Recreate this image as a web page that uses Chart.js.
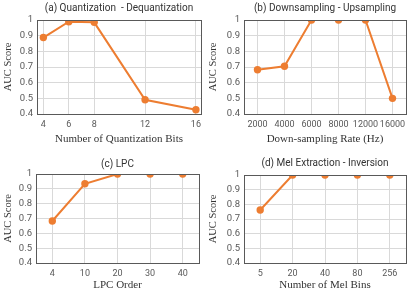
<!DOCTYPE html>
<html>
<head>
<meta charset="utf-8">
<script src="https://cdn.jsdelivr.net/npm/chart.js@4/dist/chart.umd.min.js"></script>
<style>
  body { margin: 0; background: #fff; }
  .panel { position: absolute; }
</style>
</head>
<body>
<div class="panel" style="left:0;top:0;width:208px;height:146px"><canvas id="ca"></canvas></div>
<div class="panel" style="left:205px;top:0;width:210px;height:146px"><canvas id="cb"></canvas></div>
<div class="panel" style="left:0;top:146px;width:208px;height:146px"><canvas id="cc"></canvas></div>
<div class="panel" style="left:205px;top:146px;width:210px;height:146px"><canvas id="cd"></canvas></div>
<script>
// données
const bitsQuant = [4, 6, 8, 12, 16];
const aucQuant = [0.888, 0.989, 0.985, 0.491, 0.427];

const tauxEchant = ['2000', '4000', '6000', '8000', '12000', '16000'];
const aucEchant = [0.682, 0.705, 1, 1, 1, 0.5];

const ordreLPC = ['4', '10', '20', '30', '40'];
const aucLPC = [0.683, 0.934, 1, 1, 1];

const binsMel = ['5', '20', '40', '80', '256'];
const aucMel = [0.761, 1, 1, 1, 1];

const yTicks = [0.4, 0.5, 0.6, 0.7, 0.8, 0.9, 1];

const ORANGE = '#ED7D31';
const sansFont = 'Roboto, "Open Sans", sans-serif';
const serifFont = '"Liberation Serif", "DejaVu Serif", serif';

// cadre gris autour de la zone de tracé
const cadre = {
    id: 'cadre',
    afterDraw(chart) {
        const { ctx, chartArea: a } = chart;
        ctx.save();
        ctx.strokeStyle = '#595959';
        ctx.lineWidth = 1;
        ctx.strokeRect(Math.round(a.left) + 0.5, Math.round(a.top) + 0.5,
            Math.round(a.right - a.left), Math.round(a.bottom - a.top));
        ctx.restore();
    }
};

function crearPanel(id, opts) {
    const ctx = document.getElementById(id).getContext('2d');
    const xScale = opts.lineal ? {
        type: 'linear',
        min: opts.min,
        max: opts.max,
        afterBuildTicks: s => { s.ticks = opts.labels.map(v => ({ value: v })); }
    } : {
        type: 'category',
        offset: true
    };
    Object.assign(xScale, {
        grid: { color: '#D9D9D9', offset: false, drawTicks: false },
        border: { display: false },
        ticks: { color: '#595959', font: { family: sansFont, size: 9 }, padding: 5, maxRotation: 0, autoSkip: false },
        title: { display: true, text: opts.xTitle, color: '#333', font: { family: serifFont, size: 11 }, padding: { top: 1, bottom: 0 } },
        afterFit: s => { s.height = opts.xH; }
    });

    new Chart(ctx, {
        type: 'line',
        data: {
            labels: opts.lineal ? undefined : opts.labels,
            datasets: [{
                data: opts.lineal ? opts.labels.map((x, i) => ({ x: x, y: opts.data[i] })) : opts.data,
                borderColor: ORANGE,
                backgroundColor: ORANGE,
                borderWidth: 2,
                pointRadius: 3.7,
                pointBorderWidth: 0,
                tension: 0
            }]
        },
        options: {
            responsive: true,
            maintainAspectRatio: false,
            animation: false,
            layout: { padding: { left: 2, right: opts.padR, top: 0, bottom: 0 } },
            plugins: {
                legend: { display: false },
                tooltip: { enabled: false },
                title: {
                    display: true,
                    fullSize: false,
                    text: opts.titulo,
                    color: '#333',
                    font: { family: sansFont, size: 10, weight: 'normal' },
                    padding: { top: opts.tPad, bottom: opts.tH - opts.tPad - 12 }
                }
            },
            scales: {
                x: xScale,
                y: {
                    min: 0.4,
                    max: 1,
                    afterBuildTicks: s => { s.ticks = yTicks.map(v => ({ value: v })); },
                    grid: { color: '#D9D9D9', drawTicks: false },
                    border: { display: false },
                    ticks: {
                        color: '#595959', font: { family: sansFont, size: 9.5 }, padding: 4, autoSkip: false,
                        callback: v => String(Math.round(v * 10) / 10)
                    },
                    title: { display: true, text: 'AUC Score', color: '#333', font: { family: serifFont, size: 10.5 }, padding: { top: 0, bottom: 1 } },
                    afterFit: s => { s.width = opts.yW - 2; }
                }
            }
        },
        plugins: [cadre]
    });
}

crearPanel('ca', {
    lineal: true, min: 3.5, max: 16.4,
    labels: bitsQuant, data: aucQuant,
    titulo: '(a) Quantization  - Dequantization',
    xTitle: 'Number of Quantization Bits',
    yW: 37, padR: 7, tPad: 2, tH: 20, xH: 32
});
crearPanel('cb', {
    labels: tauxEchant, data: aucEchant,
    titulo: '(b) Downsampling - Upsampling',
    xTitle: 'Down-sampling Rate (Hz)',
    yW: 39, padR: 9, tPad: 2, tH: 20, xH: 32
});
crearPanel('cc', {
    labels: ordreLPC, data: aucLPC,
    titulo: '(c) LPC',
    xTitle: 'LPC Order',
    yW: 36, padR: 9, tPad: 12, tH: 28, xH: 29
});
crearPanel('cd', {
    labels: binsMel, data: aucMel,
    titulo: '(d) Mel Extraction - Inversion',
    xTitle: 'Number of Mel Bins',
    yW: 39, padR: 9, tPad: 11, tH: 29, xH: 29
});
</script>
</body>
</html>
